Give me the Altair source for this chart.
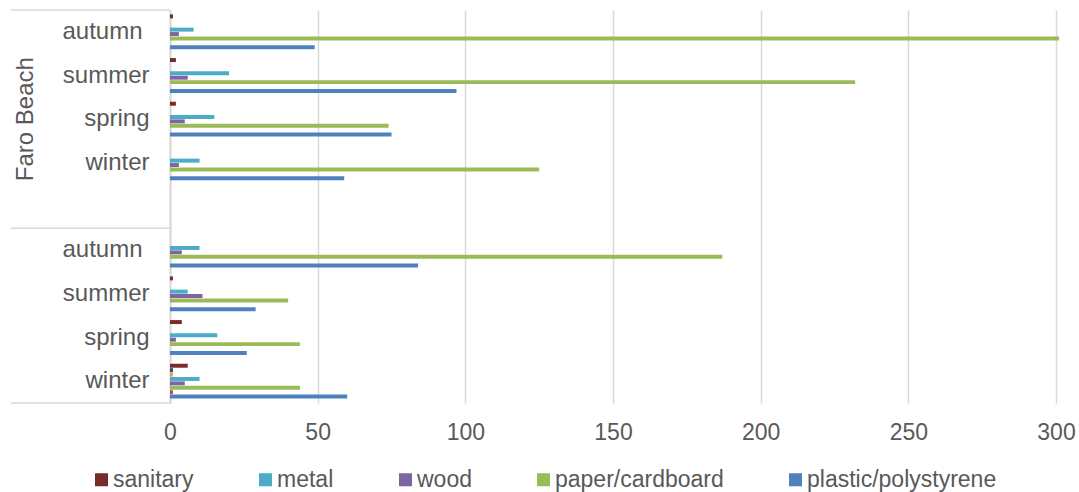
import altair as alt
import pandas as pd

FONT = "Liberation Sans"
TXT = "#595959"
GRID = "#d9d9d9"

group_names = ["Faro Beach", ""]
seasons = ["autumn", "summer", "spring", "winter"]

# series in Excel plotting order (top to bottom within each category)
series = ["sanitary", "other-3", "other-2", "metal", "wood",
          "paper/cardboard", "other-1", "plastic/polystyrene"]
colors = ["#772C2A", "#2C4D75", "#F79646", "#4BACC6", "#8064A2",
          "#9BBB59", "#C0504D", "#4F81BD"]
legend_order = ["sanitary", "metal", "wood", "paper/cardboard", "plastic/polystyrene"]

# values per category: group 1 autumn, summer, spring, winter; group 2 autumn, summer, spring, winter
sanitary = [1, 2, 2, 0, 0, 1, 4, 6]
other3 = [0, 0, 0, 0, 0, 0, 0, 1]
other2 = [0, 0, 0, 0, 0, 0, 0, 1]
metal = [8, 20, 15, 10, 10, 6, 16, 10]
wood = [3, 6, 5, 3, 4, 11, 2, 5]
paper = [301, 232, 74, 125, 187, 40, 44, 44]
other1 = [0, 0, 0, 0, 0, 0, 0, 1]
plastic = [49, 97, 75, 59, 84, 29, 26, 60]

values = [sanitary, other3, other2, metal, wood, paper, other1, plastic]

data_keys = [f"0|{s}" for s in seasons] + [f"1|{s}" for s in seasons]
cat_keys = [f"0|{s}" for s in seasons] + ["0|"] + [f"1|{s}" for s in seasons]

rows = []
for sname, vals in zip(series, values):
    for k, v in zip(data_keys, vals):
        if v > 0:
            rows.append({"key": k, "series": sname, "value": v})
df = pd.DataFrame(rows)

y_axis = alt.Axis(title=None, ticks=False, domain=True, domainColor=GRID,
                  domainWidth=2, labelFontSize=24, labelColor=TXT,
                  labelFont=FONT,
                  labelPadding={"condition": {"test": "indexof(datum.value, 'autumn') >= 0",
                                              "value": 28}, "value": 21},
                  labelLimit=0,
                  labelExpr="substring(datum.value, 2)")
y_scale = alt.Scale(domain=cat_keys, paddingInner=0, paddingOuter=0)

bars = alt.Chart(df).mark_bar().encode(
    x=alt.X("value:Q",
            scale=alt.Scale(domain=[0, 300], nice=False),
            axis=alt.Axis(title=None, values=[0, 50, 100, 150, 200, 250, 300],
                          grid=True, gridColor=GRID, gridWidth=1.5,
                          domain=False, ticks=False, labelFontSize=23,
                          labelColor=TXT, labelFont=FONT, labelPadding=18,
                          labelFlush=False)),
    y=alt.Y("key:N", scale=y_scale, axis=y_axis),
    yOffset=alt.YOffset("series:N",
                        scale=alt.Scale(domain=series, paddingInner=0.1, paddingOuter=1.0)),
    color=alt.Color("series:N",
                    scale=alt.Scale(domain=series, range=colors),
                    legend=alt.Legend(values=legend_order, title=None, orient="none",
                                      legendX=-80, legendY=458, direction="horizontal",
                                      symbolType="square", symbolSize=170,
                                      symbolStrokeWidth=0, labelFontSize=23,
                                      labelColor=TXT, labelFont=FONT, labelLimit=0,
                                      columnPadding=60, labelOffset=0)),
)

grp_df = pd.DataFrame({"key": ["0|spring"], "label": [group_names[0]]})
grp_text = alt.Chart(grp_df).mark_text(angle=270, fontSize=24, color=TXT, font=FONT,
                                       align="center", baseline="middle").encode(
    y=alt.Y("key:N", scale=y_scale, axis=y_axis),
    x=alt.value(-144),
    text="label:N",
)

top_df = pd.DataFrame({"key": ["0|autumn", "1|autumn"]})
bot_df = pd.DataFrame({"key": ["1|winter"]})
top_rules = alt.Chart(top_df).mark_rule(color=GRID, strokeWidth=1.5).encode(
    y=alt.Y("key:N", bandPosition=0, scale=y_scale, axis=y_axis),
    x=alt.value(-159), x2=alt.value(0),
)
bot_rules = alt.Chart(bot_df).mark_rule(color=GRID, strokeWidth=1.5).encode(
    y=alt.Y("key:N", bandPosition=1, scale=y_scale, axis=y_axis),
    x=alt.value(-159), x2=alt.value(0),
)

chart = alt.layer(bars, top_rules, bot_rules, grp_text).properties(
    width=886, height=393,
    autosize=alt.AutoSizeParams(type="none"),
    padding={"left": 170, "top": 10, "right": 23, "bottom": 89},
    background="white",
).configure_view(stroke=None)

chart.save("out.html", embed_options={"renderer": "svg", "actions": False})
